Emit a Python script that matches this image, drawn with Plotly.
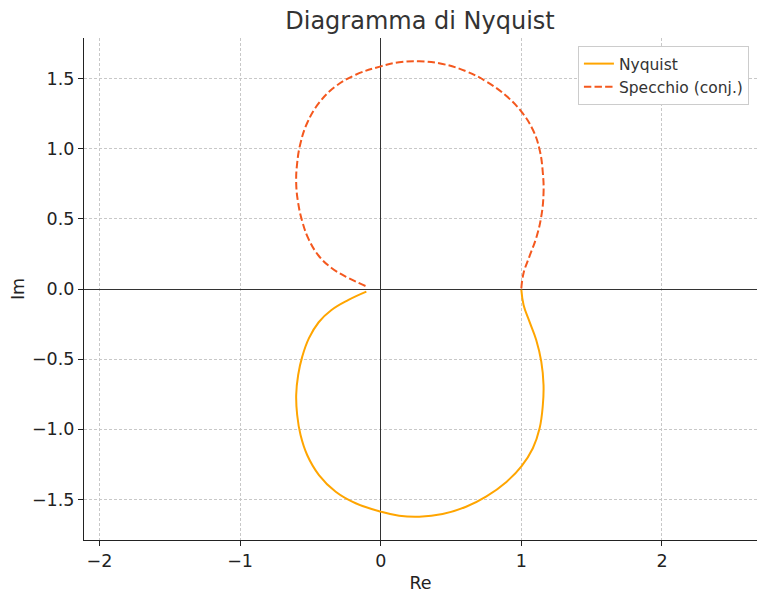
import plotly.graph_objects as go

# Points (Nyquist branch, lower half-plane), from omega=0 to omega->inf
re_vals = [1.0, 1.016, 1.058, 1.106, 1.142, 1.158, 1.153, 1.130, 1.082, 1.002, 0.894,
           0.752, 0.607, 0.440, 0.274, 0.131, 0.001, -0.178, -0.320, -0.439, -0.523,
           -0.570, -0.594, -0.601, -0.587, -0.558, -0.511, -0.441, -0.350, -0.229, -0.102]
im_vals = [-0.005, -0.114, -0.233, -0.364, -0.518, -0.684, -0.827, -0.993, -1.135, -1.262, -1.375,
           -1.478, -1.552, -1.604, -1.623, -1.616, -1.587, -1.527, -1.445, -1.326, -1.183,
           -1.041, -0.898, -0.756, -0.613, -0.482, -0.352, -0.237, -0.150, -0.078, -0.019]
mirror_im = [-v for v in im_vals]

x_ticks = [-2, -1, 0, 1, 2]
x_tick_text = ["−2", "−1", "0", "1", "2"]
y_ticks = [-1.5, -1.0, -0.5, 0.0, 0.5, 1.0, 1.5]
y_tick_text = ["−1.5", "−1.0", "−0.5", "0.0", "0.5", "1.0", "1.5"]

FONT = "DejaVu Sans"
W, H = 760, 590  # page body has an 8px margin

fig = go.Figure()
fig.add_trace(go.Scatter(x=re_vals, y=im_vals, mode="lines", name="Nyquist",
                         line=dict(color="#FFA500", width=2, shape="spline", smoothing=1.2)))
fig.add_trace(go.Scatter(x=re_vals, y=mirror_im, mode="lines", name="Specchio (conj.)",
                         line=dict(color="#F4581E", width=2, dash="7.4px,3.2px",
                                   shape="spline", smoothing=1.2)))

axis_common = dict(
    showline=True, linecolor="#222222", linewidth=1.2,
    ticks="outside", ticklen=5, tickcolor="#222222", tickwidth=1,
    showgrid=True, gridcolor="#c8c8c8", griddash="3px,2px", gridwidth=1,
    zeroline=True, zerolinecolor="#333333", zerolinewidth=1,
    tickfont=dict(family=FONT, size=17.5, color="#222222"),
    mirror=False, automargin=False,
)

fig.update_layout(
    width=W, height=H,
    margin=dict(l=76, r=11, t=30, b=58),
    paper_bgcolor="white", plot_bgcolor="white",
    title=dict(text="Diagramma di Nyquist", x=412 / W, xanchor="center",
               y=1 - 13 / H, yanchor="middle", automargin=False,
               font=dict(family=FONT, size=24, color="#333333")),
    xaxis=dict(range=[-2.11, 2.676], tickvals=x_ticks, ticktext=x_tick_text,
               title=dict(text="Re", font=dict(family=FONT, size=17.5, color="#222222"), standoff=6),
               **axis_common),
    yaxis=dict(range=[-1.789, 1.789], tickvals=y_ticks, ticktext=y_tick_text,
               title=dict(text="Im", font=dict(family=FONT, size=17.5, color="#222222"), standoff=10),
               **axis_common),
    legend=dict(x=0.988, y=0.984, xanchor="right", yanchor="top",
                bgcolor="white", bordercolor="#cccccc", borderwidth=1,
                font=dict(family=FONT, size=15.5, color="#333333")),
    showlegend=True,
)

fig.write_html("out.html")
